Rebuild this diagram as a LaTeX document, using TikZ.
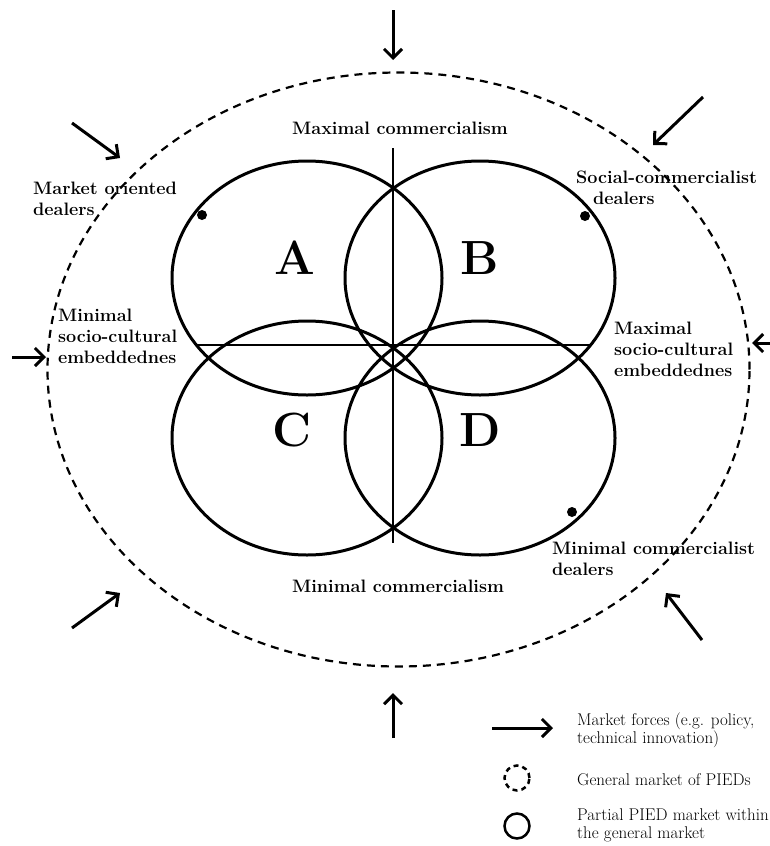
\documentclass[tikz,border=0pt]{standalone}
\usetikzlibrary{arrows.meta,shapes.geometric}
\begin{document}
\begin{tikzpicture}[x=1pt,y=-1pt,
	partmarket/.style={ellipse, draw, line width=3pt, minimum width=270pt, minimum height=234pt, inner sep=0pt},
	genmarket/.style={ellipse, draw, line width=2.2pt, dash pattern=on 8pt off 6pt, minimum width=702pt, minimum height=594pt, inner sep=0pt},
	force/.style={line width=3pt, -{Straight Barb[length=9pt, width=18pt]}},
	axisline/.style={line width=2pt},
	dealer/.style={circle, fill, inner sep=0pt, minimum size=10pt},
	bigtext/.style={font=\fontsize{18}{21}\selectfont\bfseries, inner sep=0pt, align=left},
	keytext/.style={font=\fontsize{17}{18}\selectfont, inner sep=0pt, align=left, anchor=base west},
	letter/.style={font=\fontsize{48}{50}\selectfont\bfseries, inner sep=0pt}]
	\useasboundingbox (0,0) rectangle (769,846);
	\node (G) at (398.5, 369.5)	[genmarket]	{};
	\node (A) at (307, 278)	[partmarket]	{};
	\node (B) at (480, 278)	[partmarket]	{};
	\node (C) at (307, 438)	[partmarket]	{};
	\node (D) at (480, 438)	[partmarket]	{};
	\coordinate (vtop) at (393, 148);
	\coordinate (vbot) at (393, 543);
	\coordinate (hleft) at (197, 345);
	\coordinate (hright) at (590, 345);
	\draw[axisline] (vtop) -- (vbot);
	\draw[axisline] (hleft) -- (hright);
	\node (LA) at (295, 258)	[letter]	{A};
	\node (LB) at (480, 258)	[letter]	{B};
	\node (LC) at (292, 430)	[letter]	{C};
	\node (LD) at (480, 430)	[letter]	{D};
	\node (dA) at (202, 215)	[dealer]	{};
	\node (dB) at (585, 216)	[dealer]	{};
	\node (dD) at (572, 512)	[dealer]	{};
	\node (maxc) at (400, 134)	[bigtext, anchor=base]	{Maximal commercialism};
	\node (minc) at (398, 592)	[bigtext, anchor=base]	{Minimal commercialism};
	\node (mkt) at (33, 215)	[bigtext, anchor=base west]	{Market oriented\\dealers};
	\node (soc) at (576, 204)	[bigtext, anchor=base west]	{Social-commercialist\\\hspace*{17pt}dealers};
	\node (maxe) at (614, 376)	[bigtext, anchor=base west]	{Maximal\\socio-cultural\\embeddednes};
	\node (mine) at (58, 363)	[bigtext, anchor=base west]	{Minimal\\socio-cultural\\embeddednes};
	\node (minm) at (552, 575)	[bigtext, anchor=base west]	{Minimal commercialist\\dealers};
	\coordinate (t1) at (393, 10);	\coordinate (h1) at (393, 60);
	\coordinate (t2) at (703, 97);	\coordinate (h2) at (653, 145);
	\coordinate (t3) at (780, 343);	\coordinate (h3) at (752, 343);
	\coordinate (t4) at (702, 640);	\coordinate (h4) at (666, 593);
	\coordinate (t5) at (393, 738);	\coordinate (h5) at (393, 693);
	\coordinate (t6) at (72, 628);	\coordinate (h6) at (120, 593);
	\coordinate (t7) at (12, 357);	\coordinate (h7) at (46, 357);
	\coordinate (t8) at (72, 123);	\coordinate (h8) at (120, 158);
	\draw[force] (t1) -- (h1);
	\draw[force] (t2) -- (h2);
	\draw[force] (t3) -- (h3);
	\draw[force] (t4) -- (h4);
	\draw[force] (t5) -- (h5);
	\draw[force] (t6) -- (h6);
	\draw[force] (t7) -- (h7);
	\draw[force] (t8) -- (h8);
	\coordinate (k0) at (492, 728);	\coordinate (k1) at (553, 728);
	\draw[force] (k0) -- (k1);
	\node (kg) at (517, 778)	[circle, draw, line width=2.5pt, dash pattern=on 5pt off 4pt, minimum size=25pt, inner sep=0pt]	{};
	\node (kp) at (517, 826)	[circle, draw, line width=2.5pt, minimum size=25pt, inner sep=0pt]	{};
	\node (kforce) at (577, 743)	[keytext]	{Market forces (e.g. policy,\\technical innovation)};
	\node (kgen) at (577, 785)	[keytext]	{General market of PIEDs};
	\node (kpart) at (577, 838)	[keytext]	{Partial PIED market within\\the general market};
\end{tikzpicture}
\end{document}
